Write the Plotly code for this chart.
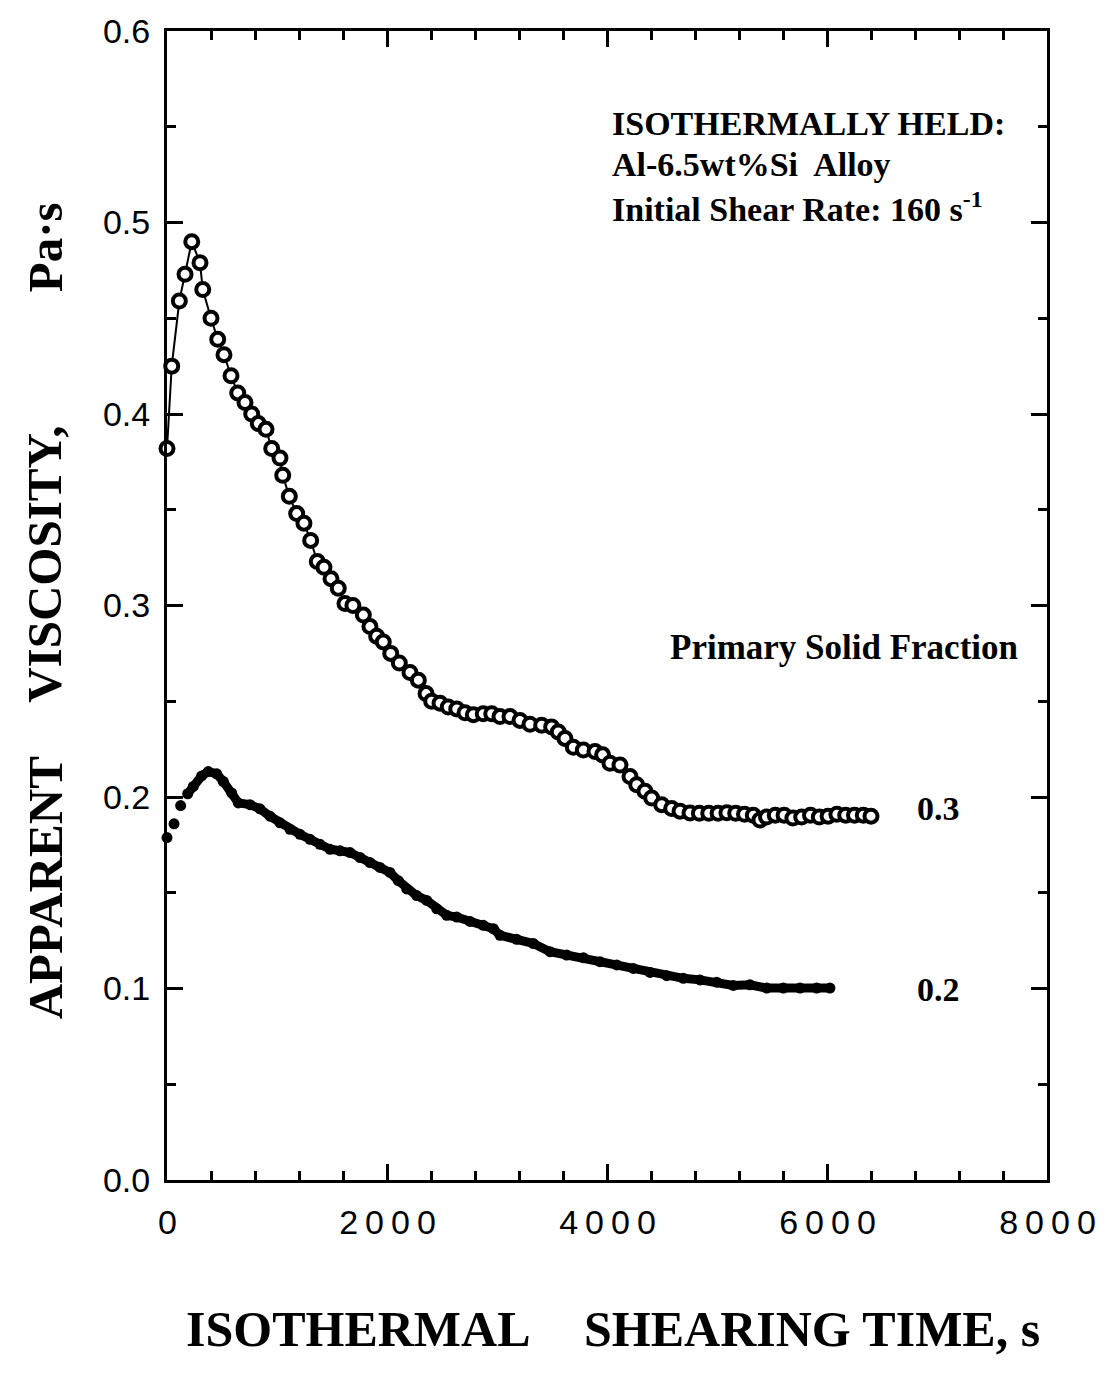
import plotly.graph_objects as go

# Primary solid fraction 0.3 (open circles)
t_03 = [0, 43, 112, 164, 225, 300, 325, 400, 461, 518, 582, 643, 709, 770, 830, 900,
        952, 1027, 1052, 1112, 1179, 1245, 1306, 1366, 1427, 1491, 1557, 1618, 1690,
        1785, 1845, 1906, 1966, 2034, 2112, 2209, 2285, 2355, 2406, 2482, 2557, 2634,
        2709, 2785, 2875, 2952, 3027, 3118, 3209, 3300, 3406, 3497, 3557, 3618, 3694,
        3785, 3891, 3960, 4027, 4118, 4209, 4270, 4345, 4406, 4497, 4588, 4664, 4755,
        4840, 4925, 5010, 5090, 5170, 5250, 5330, 5390, 5450, 5530, 5610, 5690, 5770,
        5850, 5930, 6010, 6090, 6170, 6250, 6330, 6400]
v_03 = [0.382, 0.425, 0.459, 0.473, 0.490, 0.479, 0.465, 0.450, 0.439, 0.431, 0.420,
        0.411, 0.406, 0.400, 0.395, 0.392, 0.382, 0.377, 0.368, 0.357, 0.348, 0.343,
        0.334, 0.323, 0.320, 0.314, 0.309, 0.301, 0.300, 0.295, 0.289, 0.284, 0.281,
        0.275, 0.270, 0.265, 0.261, 0.254, 0.250, 0.249, 0.247, 0.246, 0.244, 0.243,
        0.2435, 0.2435, 0.242, 0.242, 0.240, 0.238, 0.2375, 0.2366, 0.234, 0.2306,
        0.226, 0.2245, 0.2237, 0.222, 0.2176, 0.2167, 0.2107, 0.2064, 0.203, 0.1995,
        0.196, 0.194, 0.1926, 0.1917, 0.1915, 0.1915, 0.1915, 0.1918, 0.1915, 0.191,
        0.1905, 0.188, 0.1895, 0.1905, 0.1905, 0.189, 0.1895, 0.1905, 0.1895, 0.190,
        0.191, 0.1905, 0.1905, 0.1905, 0.190]

# Primary solid fraction 0.2 (filled circles)
t_02 = [0, 64, 124, 188, 239, 315, 375, 452, 512, 588, 648, 755, 845, 936, 1027, 1118,
        1209, 1300, 1391, 1482, 1573, 1664, 1755, 1845, 1936, 2027, 2103, 2179, 2270,
        2361, 2452, 2543, 2634, 2755, 2876, 2967, 3027, 3179, 3330, 3482, 3633, 3785,
        3936, 4088, 4239, 4391, 4543, 4694, 4845, 4997, 5148, 5300, 5452, 5603, 5755,
        5906, 6027]
v_02 = [0.1788, 0.186, 0.1955, 0.2017, 0.2055, 0.2110, 0.2133, 0.2121, 0.2081, 0.2021,
        0.1969, 0.1960, 0.1938, 0.190, 0.1865, 0.1831, 0.1805, 0.1779, 0.1753, 0.1727,
        0.1719, 0.171, 0.1684, 0.1658, 0.1632, 0.1606, 0.1563, 0.152, 0.1485, 0.146,
        0.1416, 0.1382, 0.1373, 0.1350, 0.1330, 0.1312, 0.1278, 0.1257, 0.1235, 0.1192,
        0.1175, 0.1161, 0.114, 0.1123, 0.1105, 0.1084, 0.1067, 0.1053, 0.1045, 0.1033,
        0.1016, 0.1019, 0.1002, 0.1002, 0.1002, 0.1002, 0.1002]

fraction_labels = ["0.3", "0.2"]

SERIF = "Liberation Serif"
SANS = "Liberation Sans"

fig = go.Figure()

# 0.2 series: thick connecting band + dots
fig.add_trace(go.Scatter(x=t_02[3:], y=v_02[3:], mode="lines",
                         line=dict(color="black", width=9), cliponaxis=False,
                         showlegend=False, hoverinfo="skip"))
fig.add_trace(go.Scatter(x=t_02, y=v_02, mode="markers",
                         marker=dict(color="black", size=11, line=dict(width=0)),
                         cliponaxis=False, showlegend=False))

# 0.3 series: open circles with thin line
fig.add_trace(go.Scatter(x=t_03, y=v_03, mode="lines+markers",
                         line=dict(color="black", width=2),
                         marker=dict(symbol="circle", size=13, color="white",
                                     line=dict(color="black", width=4)),
                         cliponaxis=False, showlegend=False))

L, R, T, B = 167, 69, 22, 196
W, H = 1116, 1376
pw, ph = W - L - R, H - T - B


def px(xp):
    return (xp - L) / pw


def py(yp):
    return (H - B - yp) / ph


ann = []
ann_font = dict(family=SERIF, size=34, color="black")
for txt, y in [("<b>ISOTHERMALLY HELD:</b>", 115),
               ("<b>Al-6.5wt%Si  Alloy</b>", 157),
               ("<b>Initial Shear Rate: 160 s<sup>-1</sup></b>", 199)]:
    ann.append(dict(text=txt, x=px(610), y=py(y), xref="paper", yref="paper",
                    xanchor="left", yanchor="middle", showarrow=False, font=ann_font))
ann.append(dict(text="<b>Primary Solid Fraction</b>", x=px(1020), y=py(643),
                xref="paper", yref="paper", xanchor="right", yanchor="middle",
                showarrow=False, font=dict(family=SERIF, size=35, color="black")))
for lab, y in zip(fraction_labels, [806, 988]):
    ann.append(dict(text="<b>" + lab + "</b>", x=px(938), y=py(y), xref="paper",
                    yref="paper", xanchor="center", yanchor="middle", showarrow=False,
                    font=ann_font))

title_font = dict(family=SERIF, size=49, color="black")
for word, y in [("APPARENT", 886), ("VISCOSITY,", 560), ("Pa·s", 240)]:
    ann.append(dict(text="<b>" + word + "</b>", x=px(45), y=py(y), xref="paper",
                    yref="paper", xanchor="center", yanchor="middle", textangle=-90,
                    showarrow=False, font=title_font))
for word, x in [("ISOTHERMAL", 358), ("SHEARING TIME, s", 812)]:
    ann.append(dict(text="<b>" + word + "</b>", x=px(x), y=py(1330), xref="paper",
                    yref="paper", xanchor="center", yanchor="middle",
                    showarrow=False, font=dict(family=SERIF, size=50, color="black")))

axis_common = dict(showline=True, linecolor="black", linewidth=3, mirror="ticks",
                   ticks="inside", tickcolor="black", tickwidth=3, ticklen=16,
                   showgrid=False, zeroline=False,
                   tickfont=dict(family=SANS, size=34, color="black"))

fig.update_layout(
    width=W, height=H,
    margin=dict(l=L, r=R, t=T, b=B),
    paper_bgcolor="white", plot_bgcolor="white",
    xaxis=dict(range=[0, 8000], tickvals=[0, 2000, 4000, 6000, 8000],
               minor=dict(dtick=400, ticks="inside", ticklen=9, tickwidth=3,
                          tickcolor="black", showgrid=False),
               ticklabelstandoff=10, **axis_common),
    yaxis=dict(range=[0, 0.6], tickvals=[0, 0.1, 0.2, 0.3, 0.4, 0.5, 0.6],
               tickformat=".1f",
               minor=dict(dtick=0.05, ticks="inside", ticklen=9, tickwidth=3,
                          tickcolor="black", showgrid=False),
               ticklabelstandoff=7, **axis_common),
    annotations=ann,
    showlegend=False,
)

post = """
document.body.style.margin='0';
document.body.style.overflow='hidden';
document.querySelectorAll('.xtick text').forEach(function(t){
  t.style.letterSpacing='7px';
  t.setAttribute('dx','4');
});
"""
fig.write_html("out.html", post_script=post, config={"displayModeBar": False})
